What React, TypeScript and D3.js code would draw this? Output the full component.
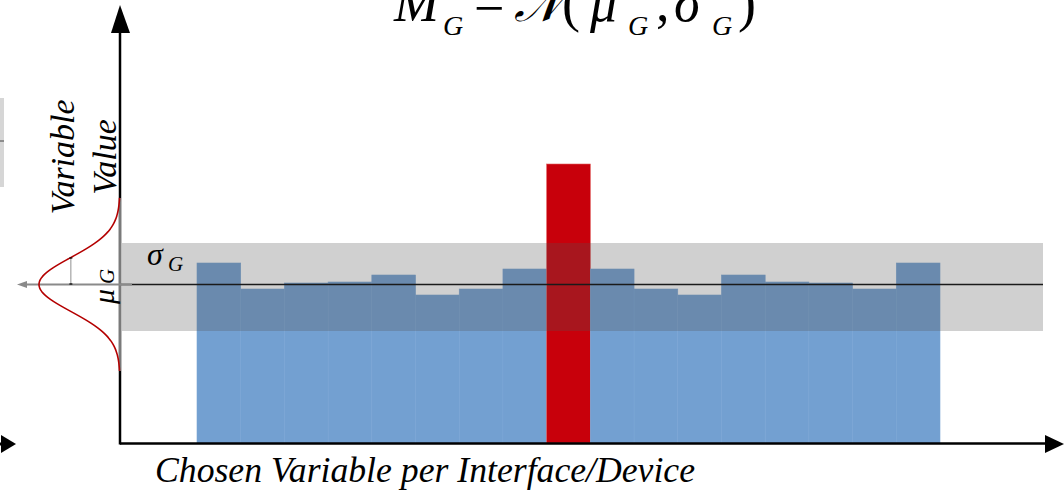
import { useMemo } from "react";
import * as d3 from "d3";

// one bar per interface/device, the 9th one is the outlier
const devices = [
  "d01", "d02", "d03", "d04", "d05", "d06", "d07", "d08", "d09",
  "d10", "d11", "d12", "d13", "d14", "d15", "d16", "d17",
];
const values = [180, 154, 160, 161, 168, 148, 154, 174, 279, 174, 154, 148, 168, 161, 160, 154, 180];
const outlier = "d09";

// group statistics (same units as values)
const muG = 158.5;
const sigmaBand = [112, 200];
const sigmaCurve = 27;

const W = 1064;
const H = 492;
const axisX = 120;
const axisY = 443;
const serif = "'Liberation Serif', 'Times New Roman', serif";

export default function App() {
  const x = d3.scaleBand<string>().domain(devices).range([197, 940]).padding(0);
  const y = d3.scaleLinear().domain([0, 300]).range([axisY, axisY - 300]);

  const bellPath = useMemo(() => {
    const pts = d3.range(muG - 3.2 * sigmaCurve, muG + 3.2 * sigmaCurve + 0.5, 1);
    return (
      d3
        .line<number>()
        .x((v) => axisX - 81 * Math.exp(-((v - muG) ** 2) / (2 * sigmaCurve ** 2)))
        .y((v) => y(v))
        .curve(d3.curveBasis)(pts) ?? ""
    );
  }, []);

  const yMu = y(muG);
  const ySig = y(muG + sigmaCurve);
  const xSig = axisX - 81 * Math.exp(-0.5);

  return (
    <svg
      width={W}
      height={H}
      style={{ position: "absolute", left: 0, top: 0, background: "#fff" }}
    >
      {/* clipped element at the far left */}
      <rect x={0} y={98} width={4} height={89} fill="#d6d6d6" />
      <line x1={0} x2={4} y1={141} y2={141} stroke="#444" strokeWidth={1} />
      <line x1={0} x2={5} y1={444} y2={444} stroke="#000" strokeWidth={3} />
      <path d="M1,435 L16,444 L1,453 Z" fill="#000" />

      {/* bars */}
      {devices.map((d, i) => (
        <rect
          key={d}
          x={x(d)}
          y={y(values[i])}
          width={x.bandwidth()}
          height={axisY - y(values[i])}
          fill={d === outlier ? "#c8000b" : "#73a0d1"}
          stroke={d === outlier ? "#e06060" : "#7aa5d4"}
          strokeWidth={0.6}
        />
      ))}

      {/* sigma band */}
      <rect
        x={122}
        y={y(sigmaBand[1])}
        width={1043 - 122}
        height={y(sigmaBand[0]) - y(sigmaBand[1])}
        fill="#515151"
        opacity={0.27}
      />
      <line x1={axisX} x2={1043} y1={yMu} y2={yMu} stroke="#1a1a1a" strokeWidth={1.5} />

      {/* axes */}
      <line x1={axisX} x2={axisX} y1={30} y2={axisY + 1.5} stroke="#000" strokeWidth={2.5} />
      <path d={`M${axisX - 9},33 L${axisX},5 L${axisX + 10},33 Z`} fill="#000" />
      <line x1={axisX} x2={1048} y1={axisY + 0.5} y2={axisY + 0.5} stroke="#000" strokeWidth={2.5} />
      <path d={`M1045,435 L1064,444 L1045,453 Z`} fill="#000" />

      {/* distribution on the value axis */}
      <line
        x1={axisX}
        x2={axisX}
        y1={y(muG + 3.2 * sigmaCurve)}
        y2={y(muG - 3.2 * sigmaCurve)}
        stroke="#7a7a7a"
        strokeWidth={2}
      />
      <line x1={24} x2={132} y1={yMu} y2={yMu} stroke="#8a8a8a" strokeWidth={2} />
      <path d={`M17,${yMu} L27,${yMu - 3.5} L27,${yMu + 3.5} Z`} fill="#8a8a8a" />
      <path d={bellPath} fill="none" stroke="#b40000" strokeWidth={1.6} />
      <line x1={xSig} x2={xSig} y1={ySig + 1} y2={yMu - 1} stroke="#222" strokeWidth={1} strokeDasharray="1,1" />
      <line x1={xSig - 1.5} x2={xSig + 1.5} y1={ySig + 0.5} y2={ySig + 0.5} stroke="#000" strokeWidth={1.2} />
      <line x1={xSig - 1.5} x2={xSig + 1.5} y1={yMu - 0.5} y2={yMu - 0.5} stroke="#000" strokeWidth={1.2} />

      {/* labels */}
      <g fontFamily={serif} fontStyle="italic" fill="#000">
        <text transform="translate(74,157) rotate(-90)" textAnchor="middle" fontSize={34}>
          Variable
        </text>
        <text transform="translate(116,157) rotate(-90)" textAnchor="middle" fontSize={34}>
          Value
        </text>
        <text x={147} y={265} fontSize={32}>σ</text>
        <text x={168} y={271} fontSize={21}>G</text>
        <text transform="translate(114,304) rotate(-90)" fontSize={30}>μ</text>
        <text transform="translate(114,284) rotate(-90)" fontSize={21}>G</text>
        <text
          x={155}
          y={482}
          fontSize={36}
          textLength={540}
          lengthAdjust="spacingAndGlyphs"
        >
          Chosen Variable per Interface/Device
        </text>
      </g>

      {/* title */}
      <g fontFamily={serif} fill="#000">
        <text x={394} y={21} fontSize={54} fontStyle="italic">M</text>
        <text x={443} y={35} fontSize={28} fontStyle="italic">G</text>
        <text x={474} y={21} fontSize={54}>=</text>
        <text x={514} y={21} fontSize={48} fontStyle="italic">𝒩</text>
        <text x={562} y={21} fontSize={54}>(</text>
        <text x={590} y={21} fontSize={54} fontStyle="italic">μ</text>
        <text x={628} y={35} fontSize={28} fontStyle="italic">G</text>
        <text x={656} y={21} fontSize={54}>,</text>
        <text x={674} y={21} fontSize={54} fontStyle="italic">σ</text>
        <text x={712} y={35} fontSize={28} fontStyle="italic">G</text>
        <text x={738} y={21} fontSize={54}>)</text>
      </g>
    </svg>
  );
}
